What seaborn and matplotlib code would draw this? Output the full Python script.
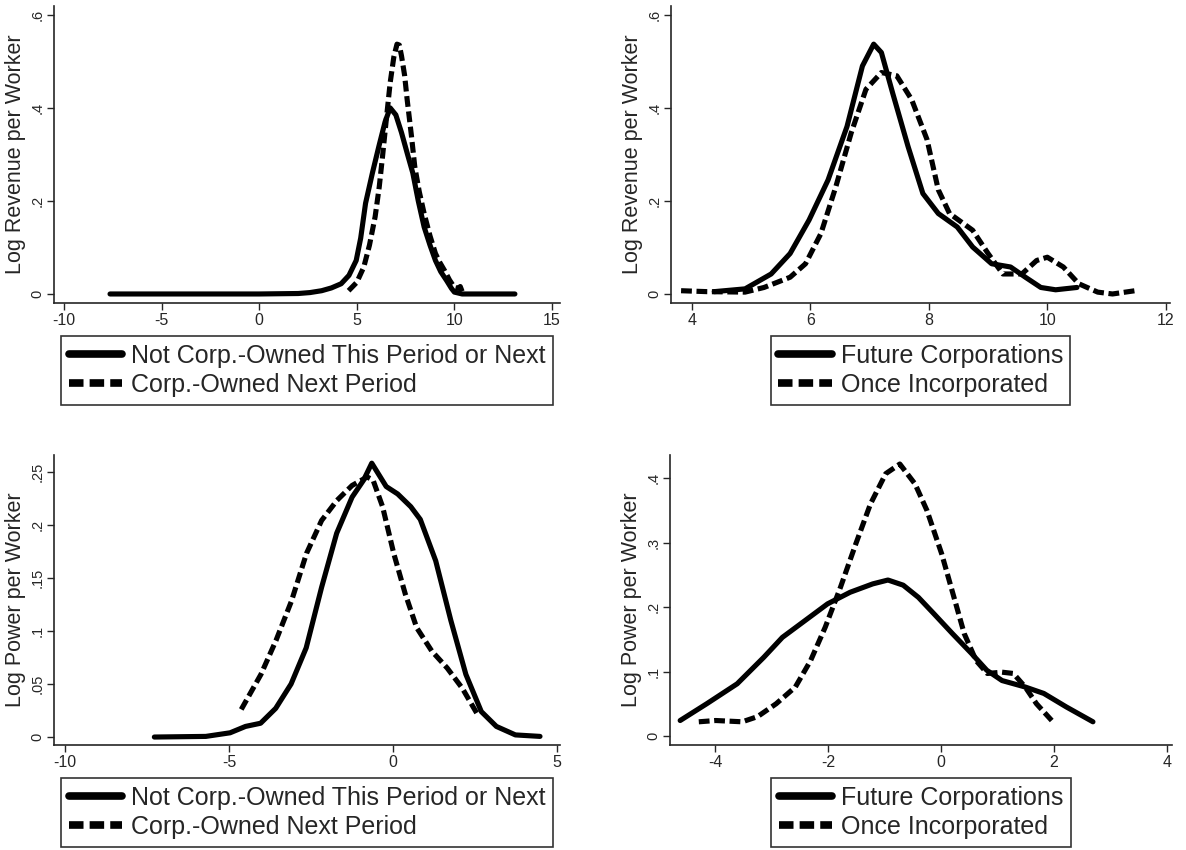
import numpy as np
import pandas as pd
import matplotlib
matplotlib.use("Agg")
import matplotlib.pyplot as plt
import seaborn as sns

sns.set_style("ticks")
plt.rcParams['font.family'] = ['Liberation Sans', 'DejaVu Sans']

# ---------------- data ----------------
# Panel A: Log Revenue per Worker, corp-owned next period
a_solid_x = [-7.64, -5, -2, 0, 2, 2.6, 3.2, 3.7, 4.2, 4.6, 4.97, 5.2, 5.45, 5.8, 6.13, 6.45, 6.71, 7.0, 7.29, 7.6, 7.87, 8.15, 8.45, 8.75, 9.03, 9.3, 9.6, 9.85, 10.0, 10.4, 11.5, 13.1]
a_solid_y = [0.0, 0.0, 0.0, 0.0, 0.001, 0.003, 0.007, 0.013, 0.022, 0.04, 0.072, 0.12, 0.195, 0.26, 0.317, 0.37, 0.40, 0.385, 0.347, 0.30, 0.26, 0.2, 0.144, 0.105, 0.072, 0.048, 0.029, 0.012, 0.004, 0.0, 0.0, 0.0]
a_dash_x = [4.58, 5.0, 5.36, 5.65, 5.94, 6.15, 6.32, 6.5, 6.71, 6.9, 7.06, 7.18, 7.29, 7.45, 7.58, 7.8, 7.97, 8.2, 8.45, 8.75, 9.03, 9.25, 9.5, 9.75, 10.0, 10.2, 10.3, 10.4]
a_dash_y = [0.007, 0.025, 0.058, 0.105, 0.166, 0.23, 0.296, 0.37, 0.454, 0.51, 0.537, 0.535, 0.512, 0.47, 0.418, 0.34, 0.274, 0.22, 0.173, 0.125, 0.087, 0.068, 0.05, 0.03, 0.014, 0.012, 0.016, 0.005]

# Panel B: Log Revenue per Worker, future vs once incorporated
b_solid_x = [4.38, 4.9, 5.34, 5.66, 5.98, 6.3, 6.62, 6.88, 7.07, 7.2, 7.39, 7.65, 7.9, 8.16, 8.48, 8.74, 9.06, 9.38, 9.63, 9.89, 10.14, 10.5]
b_solid_y = [0.005, 0.011, 0.043, 0.087, 0.159, 0.245, 0.36, 0.49, 0.537, 0.519, 0.432, 0.317, 0.216, 0.173, 0.144, 0.101, 0.065, 0.058, 0.036, 0.014, 0.009, 0.014]
b_dash_x = [3.82, 4.26, 4.9, 5.22, 5.66, 5.92, 6.18, 6.43, 6.69, 6.94, 7.2, 7.46, 7.71, 7.97, 8.16, 8.35, 8.74, 9.0, 9.25, 9.57, 9.82, 10.0, 10.27, 10.53, 10.85, 11.1, 11.48]
b_dash_y = [0.007, 0.005, 0.004, 0.014, 0.036, 0.065, 0.13, 0.23, 0.346, 0.44, 0.476, 0.469, 0.418, 0.332, 0.224, 0.173, 0.137, 0.087, 0.043, 0.043, 0.072, 0.079, 0.058, 0.022, 0.004, 0.0, 0.007]

# Panel C: Log Power per Worker, corp-owned next period
c_solid_x = [-7.28, -5.71, -4.97, -4.5, -4.04, -3.58, -3.11, -2.65, -2.18, -1.72, -1.25, -0.9, -0.65, -0.21, 0.14, 0.54, 0.83, 1.3, 1.76, 2.22, 2.69, 3.15, 3.73, 4.48]
c_solid_y = [0.0, 0.0006, 0.004, 0.01, 0.013, 0.027, 0.05, 0.084, 0.141, 0.192, 0.226, 0.242, 0.258, 0.236, 0.229, 0.217, 0.205, 0.166, 0.11, 0.059, 0.024, 0.01, 0.002, 0.0006]
c_dash_x = [-4.63, -4.03, -3.57, -3.1, -2.64, -2.18, -1.71, -1.25, -0.79, -0.61, -0.32, 0.02, 0.37, 0.72, 1.18, 1.65, 2.11, 2.58]
c_dash_y = [0.026, 0.059, 0.091, 0.128, 0.173, 0.204, 0.223, 0.237, 0.245, 0.242, 0.217, 0.173, 0.135, 0.103, 0.081, 0.065, 0.046, 0.021]

# Panel D: Log Power per Worker, future vs once incorporated
d_solid_x = [-4.62, -4.15, -3.61, -3.14, -2.81, -2.41, -2.01, -1.61, -1.21, -0.94, -0.67, -0.4, -0.13, 0.2, 0.54, 0.81, 1.08, 1.49, 1.82, 2.22, 2.69]
d_solid_y = [0.024, 0.05, 0.081, 0.122, 0.153, 0.179, 0.205, 0.223, 0.236, 0.242, 0.234, 0.215, 0.19, 0.159, 0.128, 0.102, 0.086, 0.076, 0.066, 0.045, 0.022]
d_dash_x = [-4.29, -3.99, -3.52, -3.25, -2.92, -2.58, -2.31, -2.05, -1.78, -1.51, -1.25, -0.98, -0.73, -0.46, -0.25, 0.01, 0.21, 0.41, 0.62, 0.82, 1.08, 1.28, 1.49, 1.69, 1.96]
d_dash_y = [0.022, 0.024, 0.022, 0.03, 0.05, 0.076, 0.117, 0.169, 0.231, 0.298, 0.36, 0.407, 0.422, 0.391, 0.35, 0.283, 0.221, 0.159, 0.117, 0.097, 0.099, 0.097, 0.076, 0.05, 0.024]

labels_left = ["Not Corp.-Owned This Period or Next", "Corp.-Owned Next Period"]
labels_right = ["Future Corporations", "Once Incorporated"]
ylab_top = "Log Revenue per Worker"
ylab_bot = "Log Power per Worker"

xticks_a = [-10, -5, 0, 5, 10, 15]
yticks_a = [0, 0.2, 0.4, 0.6]
ytl_a = ["0", ".2", ".4", ".6"]
xticks_b = [4, 6, 8, 10, 12]
xticks_c = [-10, -5, 0, 5]
yticks_c = [0, 0.05, 0.1, 0.15, 0.2, 0.25]
ytl_c = ["0", ".05", ".1", ".15", ".2", ".25"]
xticks_d = [-4, -2, 0, 2, 4]
yticks_d = [0, 0.1, 0.2, 0.3, 0.4]
ytl_d = ["0", ".1", ".2", ".3", ".4"]

# ---------------- figure ----------------
fig = plt.figure(figsize=(11.86, 8.5), dpi=100)
W, H = 1186, 850
LW = 3.7

def px_axes(l, r, t, b):
    return fig.add_axes([l / W, 1 - b / H, (r - l) / W, (b - t) / H])

def panel(ax, sx, sy, dx, dy, labels, ylab, xticks, yticks, ytl, xlim, ylim):
    df = pd.concat([
        pd.DataFrame({"x": sx, "y": sy, "series": labels[0]}),
        pd.DataFrame({"x": dx, "y": dy, "series": labels[1]}),
    ])
    sns.lineplot(data=df, x="x", y="y", style="series", style_order=labels,
                 dashes={labels[0]: "", labels[1]: (2.1, 0.9)},
                 color="black", linewidth=LW, estimator=None, sort=False,
                 ax=ax, legend=True)
    ax.set_xlim(*xlim)
    ax.set_ylim(*ylim)
    ax.set_xticks(xticks)
    ax.set_xticklabels([str(t) for t in xticks], fontsize=11.5)
    ax.set_yticks(yticks)
    ax.set_yticklabels(ytl, fontsize=10.5, rotation=90, va="center")
    ax.set_xlabel("")
    ax.set_ylabel(ylab, fontsize=15.5, labelpad=3)
    for s in ["top", "right"]:
        ax.spines[s].set_visible(False)
    for s in ["left", "bottom"]:
        ax.spines[s].set_linewidth(1.2)
    ax.tick_params(axis="both", direction="out", length=5, width=1, pad=2)
    handles, labs = ax.get_legend_handles_labels()
    for h in handles:
        h.set_linewidth(5.5)
        h.set_color("black")
    handles[1].set_dashes((1.9, 0.8))
    axh = ax.get_window_extent().height
    leg = ax.legend(handles, labs, loc="upper center",
                    bbox_to_anchor=(0.5, -33.0 / axh),
                    fontsize=18, frameon=True, fancybox=False, edgecolor="black",
                    handlelength=2.15, handletextpad=0.35, labelspacing=0.22,
                    borderpad=0.3, borderaxespad=0)
    leg.get_frame().set_linewidth(1.2)

axA = px_axes(54, 560, 6, 303)
panel(axA, a_solid_x, a_solid_y, a_dash_x, a_dash_y, labels_left, ylab_top,
      xticks_a, yticks_a, ytl_a, (-10.51, 15.41), (-0.0194, 0.619))

axB = px_axes(671, 1170, 6, 303)
panel(axB, b_solid_x, b_solid_y, b_dash_x, b_dash_y, labels_right, ylab_top,
      xticks_b, yticks_a, ytl_a, (3.65, 12.07), (-0.0194, 0.619))

axC = px_axes(54, 560, 455, 745)
panel(axC, c_solid_x, c_solid_y, c_dash_x, c_dash_y, labels_left, ylab_bot,
      xticks_c, yticks_c, ytl_c, (-10.34, 5.09), (-0.0075, 0.2657))

axD = px_axes(670, 1172, 455, 745)
panel(axD, d_solid_x, d_solid_y, d_dash_x, d_dash_y, labels_right, ylab_bot,
      xticks_d, yticks_d, ytl_d, (-4.8, 4.09), (-0.014, 0.436))

fig.savefig("out.png", dpi=100, facecolor="white")
